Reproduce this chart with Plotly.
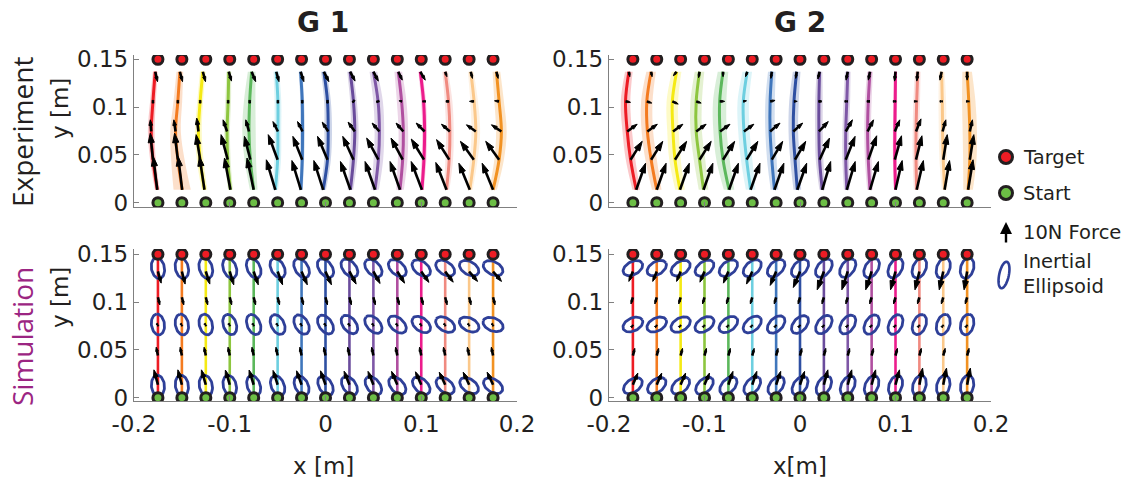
import numpy as np
import plotly.graph_objects as go

W, H = 1131, 487

# ---------------- data ----------------
target_x = [-0.175, -0.15, -0.125, -0.1, -0.075, -0.05, -0.025, 0.0,
            0.025, 0.05, 0.075, 0.1, 0.125, 0.15, 0.175]
start_y = 0.0
target_y = 0.15

traj_colors = ["#ED1C24", "#F47B20", "#F5EA14", "#8DC63F", "#5CB85C", "#6DCFE0",
               "#3F76BC", "#2E4FA2", "#6A4C9C", "#7E57A6", "#B04FA0", "#EC1C8C",
               "#F08A80", "#FBC88A", "#F29222"]

# experimental mean trajectories: x offset from target line (mm) at these heights
exp_level_y = [0.0135, 0.045, 0.0745, 0.106, 0.137]

g1_exp_offset_mm = [
    [-0.7, -5.2, -7.0, -5.2, -2.8], [0.3, -4.2, -6.6, -4.2, -2.1],
    [-1.4, -5.9, -7.7, -5.9, -3.1], [0.7, -2.1, -2.8, -1.7, -1.0],
    [0.0, -3.5, -4.9, -4.2, -2.1], [-2.4, 0.0, 0.3, 0.3, -1.4],
    [-0.7, 0.7, 1.0, 0.7, -1.0], [-2.4, 2.1, 2.8, 2.1, -1.7],
    [1.0, 4.2, 5.6, 4.2, 0.7], [1.7, 5.2, 6.3, 4.9, 0.0],
    [2.8, 5.6, 6.3, 4.5, 1.0], [0.7, 2.8, 3.5, 2.4, -1.0],
    [1.4, 4.2, 4.9, 3.5, 0.0], [0.7, 4.9, 7.0, 5.2, 1.7],
    [0.0, 6.3, 8.7, 6.3, 3.5]]
g1_exp_band_mm = [
    [2.5, 3.0, 3.5, 3.0, 2.5], [9.0, 7.0, 5.5, 4.5, 3.5],
    [3.0, 3.5, 3.5, 3.0, 3.0], [2.5, 3.0, 3.0, 3.0, 2.5],
    [4.0, 6.0, 7.0, 6.0, 4.0], [3.0, 3.5, 3.5, 3.5, 3.0],
    [2.0, 2.0, 2.5, 2.0, 2.0], [3.0, 3.5, 4.0, 3.5, 3.0],
    [3.0, 4.0, 4.0, 3.5, 3.0], [4.0, 5.0, 5.0, 5.0, 4.0],
    [4.0, 5.0, 5.0, 5.0, 4.0], [2.0, 2.5, 2.5, 2.5, 2.0],
    [3.0, 4.0, 4.0, 4.0, 3.0], [3.0, 4.0, 4.5, 4.0, 3.0],
    [4.0, 5.0, 5.5, 5.0, 4.0]]

g2_exp_offset_mm = [
    [3.5, -2.4, -5.9, -7.7, -4.2], [0.0, -5.9, -9.8, -10.4, -5.9],
    [-0.7, -5.9, -8.0, -8.7, -4.2], [-1.0, -5.2, -8.7, -8.7, -5.2],
    [0.7, -5.6, -8.7, -9.1, -5.6], [-1.7, -5.9, -8.7, -9.4, -5.2],
    [-1.7, -4.5, -6.3, -6.3, -4.5], [-2.8, -5.2, -7.0, -6.3, -3.5],
    [-1.7, -4.5, -5.2, -5.2, -4.5], [-1.0, -2.1, -2.1, -1.0, 0.0],
    [-1.7, -3.5, -4.2, -3.5, -1.7], [0.0, -0.7, -0.7, -0.3, 0.0],
    [-2.8, -3.5, -3.5, -2.8, -1.7], [1.4, 0.0, -0.7, -1.0, -1.7],
    [1.0, 2.8, 2.8, 1.7, 0.0]]
g2_exp_band_mm = [
    [4.0, 5.0, 5.0, 5.0, 4.0], [5.0, 6.0, 6.0, 6.0, 5.0],
    [5.0, 6.0, 6.0, 6.0, 5.0], [5.0, 6.0, 6.0, 6.0, 5.0],
    [5.5, 7.0, 7.0, 7.0, 5.5], [5.0, 6.0, 6.0, 6.0, 5.0],
    [4.0, 5.0, 5.0, 5.0, 4.0], [4.0, 5.0, 5.0, 5.0, 4.0],
    [3.0, 4.0, 4.0, 4.0, 3.0], [3.0, 3.5, 3.5, 3.5, 3.0],
    [3.0, 3.5, 3.5, 3.5, 3.0], [1.5, 2.0, 2.0, 2.0, 1.5],
    [3.0, 3.5, 3.5, 3.5, 3.0], [3.0, 4.0, 4.0, 4.0, 3.0],
    [5.0, 7.0, 7.5, 7.0, 5.0]]

# experimental forces (N), rows = heights in exp_level_y, columns = targets
g1_exp_fx = [
    [-2.1, -2.1, -2.6, -3.1, -3.5, -4.7, -4.7, -4.9, -5.2, -5.2, -5.2, -5.6, -5.6, -5.7, -5.7],
    [-1.4, -1.7, -2.1, -3.5, -3.1, -4.9, -4.9, -5.2, -5.6, -6.1, -6.1, -6.6, -6.6, -7.0, -7.0],
    [-0.5, -0.9, -0.9, -2.1, -1.7, -2.6, -2.6, -3.1, -3.5, -3.8, -3.8, -4.4, -4.4, -4.9, -5.2],
    [0.0, 0.0, 0.0, 0.0, 0.0, 0.0, 0.0, 0.0, -0.5, -0.9, -1.4, -0.5, -1.4, -2.4, -2.4],
    [1.2, 1.4, 1.4, 1.4, 2.1, 1.4, 1.7, 2.6, 2.6, 2.6, 2.1, 2.6, 0.9, 0.9, 0.9]]
g1_exp_fy = [
    [17.4, 17.4, 17.4, 16.6, 16.6, 15.7, 15.3, 15.3, 14.8, 14.8, 14.8, 14.8, 14.3, 13.9, 13.9],
    [13.9, 13.9, 13.1, 13.1, 12.2, 13.1, 12.2, 12.2, 12.2, 11.3, 11.3, 10.8, 10.5, 9.6, 9.6],
    [6.1, 6.1, 7.0, 6.1, 6.1, 5.2, 5.2, 4.9, 4.9, 4.4, 4.4, 4.4, 3.8, 3.5, 3.5],
    [-1.0, -1.0, -1.0, -1.0, -1.0, -1.0, -1.0, -1.0, -0.5, -0.3, 0.3, 0.0, 0.0, 0.0, 0.3],
    [-5.2, -5.2, -5.2, -4.9, -5.2, -5.2, -5.2, -5.2, -4.9, -4.9, -4.4, -4.4, -2.6, -3.5, -3.5]]

g2_exp_fx = [
    [4.9, 4.9, 4.9, 4.9, 4.9, 4.9, 4.9, 4.9, 4.4, 4.4, 4.4, 3.5, 3.5, 2.6, 2.6],
    [6.1, 6.1, 6.1, 6.1, 6.1, 5.9, 5.7, 5.6, 5.2, 4.9, 4.4, 3.5, 3.1, 2.1, 2.1],
    [5.2, 5.2, 5.2, 5.2, 5.2, 5.2, 5.2, 4.9, 4.9, 3.5, 3.1, 2.6, 2.6, 1.7, 1.4],
    [2.6, 2.6, 3.1, 2.6, 2.6, 1.7, 2.6, 1.7, 1.4, 0.5, 0.9, 0.5, 0.3, 0.3, 0.3],
    [0.5, 0.5, -1.7, -0.5, 0.0, -0.9, -0.5, -0.5, -0.9, -0.9, -0.9, -0.5, -0.5, -0.9, 0.0]]
g2_exp_fy = [
    [13.9, 13.9, 13.9, 13.9, 13.9, 13.9, 13.9, 13.9, 14.8, 14.8, 14.8, 15.3, 15.3, 15.3, 15.7],
    [9.6, 9.6, 9.6, 9.6, 9.6, 9.6, 9.6, 9.6, 11.3, 12.2, 12.5, 12.5, 12.5, 13.1, 13.1],
    [3.8, 3.8, 3.8, 3.8, 3.8, 3.8, 4.4, 4.4, 5.2, 6.1, 6.1, 6.1, 6.6, 6.1, 6.1],
    [-0.5, -0.9, -1.4, -0.9, 0.0, 0.3, 0.5, 0.0, 0.0, 0.0, 0.0, 0.0, 0.0, 0.0, 0.0],
    [-2.6, -2.6, -2.1, -3.1, -2.6, -2.6, -3.5, -3.5, -3.8, -4.4, -4.4, -4.9, -4.9, -4.4, -4.4]]

# simulation forces (N)
sim_arrow_y = [0.0135, 0.044, 0.0755, 0.105, 0.132]
g1_sim_fx = [
    [-2.1, -2.1, -2.3, -2.3, -2.4, -2.4, -2.6, -2.6, -2.8, -2.8, -3.0, -3.0, -3.1, -3.1, -3.1],
    [-0.9, -0.9, -0.9, -0.9, -0.9, -0.9, -0.9, -0.9, -0.9, -0.9, -0.9, -0.9, -0.9, -0.9, -0.9],
    [0.2, 0.2, 0.2, 0.2, 0.2, 0.2, 0.2, 0.2, 0.2, 0.2, 0.2, 0.2, 0.2, 0.2, 0.2],
    [1.0, 1.0, 1.0, 1.0, 1.0, 1.0, 1.0, 1.0, 1.0, 1.0, 1.0, 1.0, 1.0, 1.0, 1.0],
    [1.7, 1.7, 2.1, 2.1, 2.4, 2.6, 3.0, 3.1, 3.5, 3.5, 3.8, 4.0, 4.2, 4.4, 4.4]]
g1_sim_fy = [
    [7.8, 7.8, 7.8, 7.7, 7.7, 7.5, 7.3, 7.3, 7.1, 7.0, 7.0, 6.8, 6.6, 6.6, 6.6],
    [4.4, 4.4, 4.4, 4.4, 4.4, 4.4, 4.4, 4.4, 4.4, 4.4, 4.4, 4.4, 4.4, 4.4, 4.4],
    [-0.3, -0.3, -0.3, -0.3, -0.3, -0.3, -0.3, -0.3, -0.3, -0.3, -0.3, -0.3, -0.3, -0.3, -0.3],
    [-4.0, -4.0, -4.0, -4.0, -4.0, -4.0, -4.0, -4.0, -4.0, -4.0, -4.0, -4.0, -4.0, -4.0, -4.0],
    [-6.1, -6.6, -6.6, -7.0, -7.0, -7.0, -7.0, -7.0, -6.6, -6.3, -6.1, -5.7, -5.6, -5.2, -5.2]]
g2_sim_fx = [
    [2.6, 2.6, 2.6, 2.6, 2.4, 2.4, 2.4, 2.4, 2.1, 2.1, 2.1, 2.1, 1.7, 1.7, 1.7],
    [1.0, 1.0, 1.0, 1.0, 1.0, 1.0, 1.0, 1.0, 1.0, 1.0, 1.0, 1.0, 1.0, 1.0, 1.0],
    [0.2, 0.2, 0.2, 0.2, 0.2, 0.2, 0.2, 0.2, 0.2, 0.2, 0.2, 0.2, 0.2, 0.2, 0.2],
    [-1.0, -1.0, -1.0, -1.0, -1.0, -1.0, -1.0, -1.0, -1.0, -1.0, -1.0, -1.0, -1.0, -1.0, -1.0],
    [-2.1, -2.1, -2.1, -2.4, -2.6, -3.0, -3.1, -3.5, -3.5, -3.1, -3.1, -2.6, -2.3, -2.1, -1.6]]
g2_sim_fy = [
    [6.1, 6.1, 6.1, 6.1, 7.0, 7.0, 7.0, 7.0, 7.8, 7.8, 7.8, 7.8, 8.7, 8.7, 8.7],
    [3.8, 3.8, 3.8, 3.8, 3.8, 3.8, 3.8, 3.8, 3.8, 3.8, 3.8, 3.8, 3.8, 3.8, 3.8],
    [0.2, 0.2, 0.2, 0.2, 0.2, 0.2, 0.2, 0.2, 0.2, 0.2, 0.2, 0.2, 0.2, 0.2, 0.2],
    [-3.5, -3.5, -3.5, -3.5, -3.5, -3.5, -3.5, -3.5, -3.5, -3.5, -3.5, -3.5, -3.5, -3.5, -3.5],
    [-5.2, -5.2, -5.2, -5.6, -6.1, -6.6, -7.3, -8.4, -9.6, -9.6, -9.6, -9.6, -9.6, -9.6, -9.6]]

# inertial ellipsoids: centre heights, semi-axes (m), major-axis angle (deg) per height
sim_ellipse_y = [0.0125, 0.0765, 0.1355]
ellipse_major = 0.011
ellipse_minor = 0.0068
g1_ell_angle = [
    [95, 98, 101, 104, 108, 112, 116, 120, 124, 128, 132, 136, 140, 144, 148],
    [98, 101, 104, 108, 112, 116, 120, 124, 128, 133, 138, 143, 148, 153, 158],
    [100, 103, 106, 110, 114, 118, 122, 126, 130, 134, 138, 142, 146, 150, 153]]
g2_ell_angle = [
    [35, 38, 41, 44, 47, 50, 53, 56, 60, 63, 66, 70, 73, 76, 79],
    [25, 27, 30, 33, 36, 40, 44, 48, 52, 56, 60, 64, 68, 72, 76],
    [28, 30, 32, 35, 38, 41, 44, 47, 50, 54, 58, 62, 66, 70, 74]]

FORCE_SCALE = 0.002  # metres of arrow per newton (10 N legend arrow)

# ---------------- style ----------------
INK = "#000000"
TXT = "#231F20"
ELL_COLOR = "#2E3F98"
RED = "#ED1C24"
GREEN = "#6CBE45"
PX_PER_M = 957.0
FONT = "DejaVu Sans"


def rgba(hexc, a):
    h = hexc.lstrip("#")
    return "rgba(%d,%d,%d,%.2f)" % (int(h[0:2], 16), int(h[2:4], 16), int(h[4:6], 16), a)


fig = go.Figure()


def add_markers(xa, ya):
    fig.add_trace(go.Scatter(x=target_x, y=[target_y] * len(target_x), mode="markers",
                             marker=dict(size=10, color=RED, line=dict(color=TXT, width=3)),
                             xaxis=xa, yaxis=ya, hoverinfo="skip"))
    fig.add_trace(go.Scatter(x=target_x, y=[start_y] * len(target_x), mode="markers",
                             marker=dict(size=10, color=GREEN, line=dict(color=TXT, width=3)),
                             xaxis=xa, yaxis=ya, hoverinfo="skip"))


def add_arrows(xa, ya, bases_x, bases_y, fx, fy):
    xs, ys, sizes = [], [], []
    for lvl in range(len(fx)):
        for i in range(len(target_x)):
            x0 = bases_x[lvl][i]
            y0 = bases_y[lvl]
            dx = fx[lvl][i] * FORCE_SCALE
            dy = fy[lvl][i] * FORCE_SCALE
            L = np.hypot(dx, dy) * PX_PER_M
            hs = float(np.clip(L * 0.5, 3.0, 10.0))
            xs += [x0, x0 + dx, None]
            ys += [y0, y0 + dy, None]
            sizes += [0, hs, 0]
    fig.add_trace(go.Scatter(x=xs, y=ys, mode="lines+markers", opacity=1,
                             line=dict(color=INK, width=2.6),
                             marker=dict(symbol="arrow", size=sizes, angleref="previous",
                                         color=INK, opacity=1, line=dict(width=1, color=INK)),
                             xaxis=xa, yaxis=ya, hoverinfo="skip", connectgaps=False))


def add_experiment(xa, ya, offs, bands, fx, fy):
    for i, tx in enumerate(target_x):
        cx = [tx + o / 1000.0 for o in offs[i]]
        lx = [c - b / 1000.0 for c, b in zip(cx, bands[i])]
        rx = [c + b / 1000.0 for c, b in zip(cx, bands[i])]
        fig.add_trace(go.Scatter(x=lx, y=exp_level_y, mode="lines",
                                 line=dict(width=0, shape="spline", color=rgba(traj_colors[i], 0)),
                                 xaxis=xa, yaxis=ya, hoverinfo="skip"))
        fig.add_trace(go.Scatter(x=rx, y=exp_level_y, mode="lines", fill="tonextx",
                                 fillcolor=rgba(traj_colors[i], 0.24),
                                 line=dict(width=0, shape="spline", color=rgba(traj_colors[i], 0)),
                                 xaxis=xa, yaxis=ya, hoverinfo="skip"))
    for i, tx in enumerate(target_x):
        cx = [tx + o / 1000.0 for o in offs[i]]
        fig.add_trace(go.Scatter(x=cx, y=exp_level_y, mode="lines",
                                 line=dict(width=3, shape="spline", color=traj_colors[i]),
                                 xaxis=xa, yaxis=ya, hoverinfo="skip"))
    bases_x = [[target_x[i] + offs[i][lvl] / 1000.0 for i in range(len(target_x))]
               for lvl in range(len(exp_level_y))]
    add_arrows(xa, ya, bases_x, exp_level_y, fx, fy)
    add_markers(xa, ya)


def add_simulation(xa, ya, angles, fx, fy):
    for i, tx in enumerate(target_x):
        fig.add_trace(go.Scatter(x=[tx, tx], y=[start_y, target_y], mode="lines",
                                 line=dict(width=2.6, color=traj_colors[i]),
                                 xaxis=xa, yaxis=ya, hoverinfo="skip"))
    t = np.linspace(0, 2 * np.pi, 61)
    ex, ey = [], []
    for lvl, cy in enumerate(sim_ellipse_y):
        for i, tx in enumerate(target_x):
            th = np.deg2rad(angles[lvl][i])
            px = tx + ellipse_major * np.cos(t) * np.cos(th) - ellipse_minor * np.sin(t) * np.sin(th)
            py = cy + ellipse_major * np.cos(t) * np.sin(th) + ellipse_minor * np.sin(t) * np.cos(th)
            ex += list(px) + [None]
            ey += list(py) + [None]
    fig.add_trace(go.Scatter(x=ex, y=ey, mode="lines", line=dict(color=ELL_COLOR, width=2.8),
                             xaxis=xa, yaxis=ya, hoverinfo="skip"))
    bases_x = [list(target_x) for _ in sim_arrow_y]
    add_arrows(xa, ya, bases_x, sim_arrow_y, fx, fy)
    add_markers(xa, ya)


add_experiment("x", "y", g1_exp_offset_mm, g1_exp_band_mm, g1_exp_fx, g1_exp_fy)
add_experiment("x2", "y2", g2_exp_offset_mm, g2_exp_band_mm, g2_exp_fx, g2_exp_fy)
add_simulation("x3", "y3", g1_ell_angle, g1_sim_fx, g1_sim_fy)
add_simulation("x4", "y4", g2_ell_angle, g2_sim_fx, g2_sim_fy)

# ---------------- axes ----------------
AXC = "#808080"
tickfont = dict(family=FONT, size=23, color=TXT)
xcommon = dict(range=[-0.2, 0.2], tickvals=[-0.2, -0.1, 0, 0.1, 0.2],
               ticktext=["-0.2", "-0.1", "0", "0.1", "0.2"], showline=True, linecolor=AXC,
               linewidth=1.3, ticks="inside", ticklen=5, tickcolor=AXC, tickwidth=1.3,
               showgrid=False, zeroline=False, tickfont=tickfont, fixedrange=True,
               automargin=False, ticklabelstandoff=2)
ycommon = dict(tickvals=[0, 0.05, 0.1, 0.15], ticktext=["0", "0.05", "0.1", "0.15"],
               showline=True, linecolor=AXC, linewidth=1.3, ticks="inside", ticklen=5,
               tickcolor=AXC, tickwidth=1.3, showgrid=False, zeroline=False,
               tickfont=tickfont, fixedrange=True, automargin=False)

dx_left = [134 / W, 517 / W]
dx_right = [609 / W, 991 / W]
dy_top = [1 - 207 / H, 1 - 55 / H]
dy_bot = [1 - 401 / H, 1 - 249 / H]
yr_top = [-0.0045, 0.1545]
yr_bot = [-0.0035, 0.1555]

fig.update_layout(
    xaxis=dict(xcommon, domain=dx_left, anchor="y", showticklabels=False),
    yaxis=dict(ycommon, domain=dy_top, anchor="x", range=yr_top),
    xaxis2=dict(xcommon, domain=dx_right, anchor="y2", showticklabels=False),
    yaxis2=dict(ycommon, domain=dy_top, anchor="x2", range=yr_top),
    xaxis3=dict(xcommon, domain=dx_left, anchor="y3"),
    yaxis3=dict(ycommon, domain=dy_bot, anchor="x3", range=yr_bot),
    xaxis4=dict(xcommon, domain=dx_right, anchor="y4"),
    yaxis4=dict(ycommon, domain=dy_bot, anchor="x4", range=yr_bot),
)

# ---------------- text ----------------
ann = []


def text(t, px, py, font, angle=0, xanchor="center"):
    ann.append(dict(text=t, x=px / W, y=1 - py / H, xref="paper", yref="paper",
                    xanchor=xanchor, yanchor="middle", align="left", showarrow=False,
                    textangle=angle, font=font))


lab = dict(family=FONT, size=23, color=TXT)
title_font = dict(family=FONT, size=28, color=TXT)
text("<b>G 1</b>", 323, 22, title_font)
text("<b>G 2</b>", 800, 22, title_font)
text("x [m]", 323, 466, lab)
text("x[m]", 800, 466, lab)
text("y [m]", 60, 109, lab, angle=-90)
text("y [m]", 60, 298, lab, angle=-90)
text("Experiment", 22, 132, dict(family="Open Sans", size=28, color=TXT), angle=-90)
text("Simulation", 22, 337, dict(family="Open Sans", size=28, color="#9B2582"), angle=-90)

leg = dict(family=FONT, size=19.5, color=TXT)
text("Target", 1021, 157, leg, xanchor="left")
text("Start", 1021, 193, leg, xanchor="left")
text("10N Force", 1021, 233, leg, xanchor="left")
text("Inertial<br>Ellipsoid", 1021, 274, leg, xanchor="left")
ann.append(dict(text="", x=1006 / W, y=1 - 222 / H, xref="paper", yref="paper",
                ax=0, ay=22, showarrow=True, arrowhead=2, arrowsize=1, arrowwidth=2.4,
                arrowcolor=INK))

shapes = []
for cy, col in [(157, RED), (193, GREEN)]:
    shapes.append(dict(type="circle", xref="paper", yref="paper", xsizemode="pixel",
                       ysizemode="pixel", xanchor=1006 / W, yanchor=1 - cy / H,
                       x0=-6.5, x1=6.5, y0=-6.5, y1=6.5, fillcolor=col,
                       line=dict(color=TXT, width=3)))
tt = np.linspace(0, 2 * np.pi, 41)
th = np.deg2rad(78)
path = ""
for k, a in enumerate(tt):
    px = 13.5 * np.cos(a) * np.cos(th) - 4.8 * np.sin(a) * np.sin(th)
    py = 13.5 * np.cos(a) * np.sin(th) + 4.8 * np.sin(a) * np.cos(th)
    path += ("M" if k == 0 else "L") + "%.2f,%.2f" % (px, py)
path += "Z"
shapes.append(dict(type="path", xref="paper", yref="paper", xsizemode="pixel",
                   ysizemode="pixel", xanchor=1004 / W, yanchor=1 - 275 / H, path=path,
                   line=dict(color=ELL_COLOR, width=2.6)))

fig.update_layout(width=W, height=H, margin=dict(l=0, r=0, t=0, b=0),
                  paper_bgcolor="white", plot_bgcolor="white", showlegend=False,
                  annotations=ann, shapes=shapes)

fig.write_html("out.html")
